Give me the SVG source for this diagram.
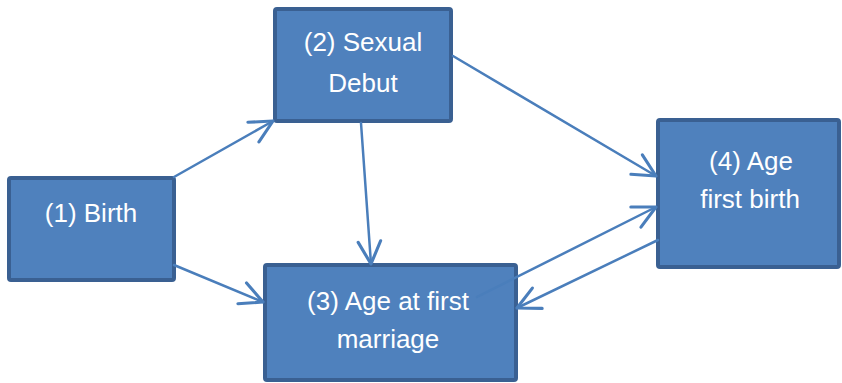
<svg xmlns="http://www.w3.org/2000/svg" width="842" height="383" viewBox="0 0 842 383">
<defs>
<style>
.box{fill:#4F81BD;stroke:#3A6092;stroke-width:4;}
.lbl{fill:#FFFFFF;font-family:"Liberation Sans","Open Sans",Arial,sans-serif;font-size:26px;text-anchor:middle;}
.edge{fill:none;stroke:#4A7EBB;stroke-width:2.5;stroke-linecap:round;}
</style>
<marker id="arr" markerUnits="userSpaceOnUse" markerWidth="30" markerHeight="30" viewBox="-20 -12 24 24" refX="0" refY="0" orient="auto" overflow="visible">
<path d="M -18 -9 L 0 0 L -18 9" fill="none" stroke="#4A7EBB" stroke-width="2.5" stroke-linecap="round" stroke-linejoin="round"/>
</marker>
</defs>
<rect width="842" height="383" fill="#FFFFFF"/>
<g id="node1">
<rect class="box" x="9" y="178" width="165" height="102" rx="2"/>
<text class="lbl" x="91" y="222">(1) Birth</text>
</g>
<g id="node2">
<rect class="box" x="275" y="9" width="176" height="112" rx="2"/>
<text class="lbl" x="363" y="51">(2) Sexual</text>
<text class="lbl" x="363" y="92">Debut</text>
</g>
<g id="node3">
<rect class="box" x="265" y="265" width="251" height="115" rx="2"/>
<text class="lbl" x="388" y="310">(3) Age at first</text>
<text class="lbl" x="388" y="348">marriage</text>
</g>
<g id="node4">
<rect class="box" x="658" y="120" width="181" height="147" rx="2"/>
<text class="lbl" x="751" y="170">(4) Age</text>
<text class="lbl" x="750" y="208">first birth</text>
</g>
<g id="connectors">
<line class="edge" x1="174" y1="177" x2="273" y2="121" marker-end="url(#arr)"/>
<line class="edge" x1="174" y1="265" x2="263" y2="302" marker-end="url(#arr)"/>
<line class="edge" x1="361" y1="123" x2="371" y2="264" marker-end="url(#arr)"/>
<line class="edge" x1="453" y1="56" x2="656" y2="176" marker-end="url(#arr)"/>
<line class="edge" x1="477" y1="297" x2="656" y2="207" marker-end="url(#arr)"/>
<line class="edge" x1="658" y1="240" x2="517" y2="308" marker-end="url(#arr)"/>
</g>
</svg>
